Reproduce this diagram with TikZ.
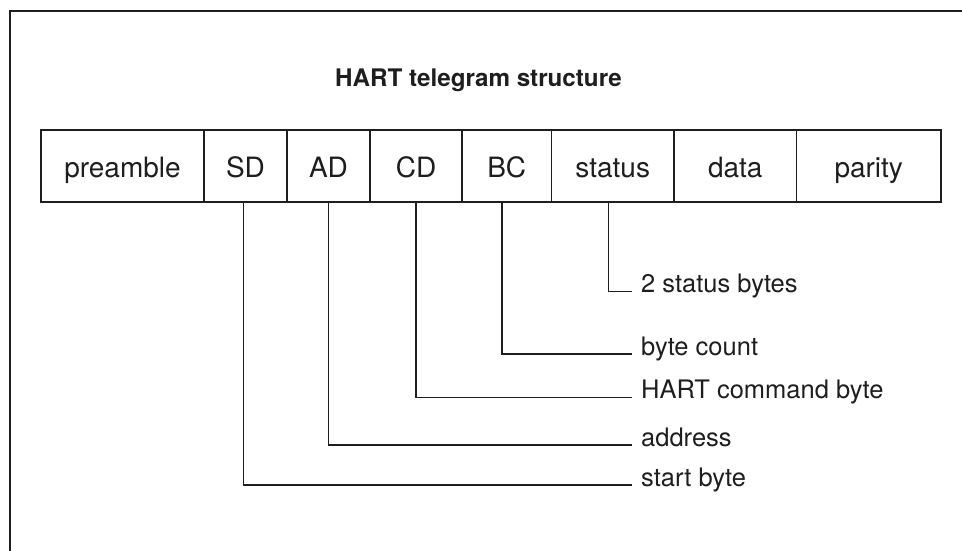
\documentclass[tikz,border=0pt]{standalone}
\usepackage{fontspec}
\setmainfont{TeX Gyre Heros}
\definecolor{ink}{HTML}{1E1E1E}
\begin{document}
\begin{tikzpicture}[x=1pt,y=-1pt,
  every node/.style={text=ink},
  cell/.style={draw=ink, line width=1.5pt, minimum height=72pt, inner sep=0pt,
    text height=22pt, text depth=0pt, font=\fontsize{28}{32}\selectfont},
  lbl/.style={anchor=mid west, inner sep=0pt, font=\fontsize{25.5}{30}\selectfont},
  conn/.style={draw=ink, line width=1.5pt},
  frame/.style={draw=ink, line width=1.5pt}]
\useasboundingbox (0,0) rectangle (962,550);
% open frame
\coordinate (fbl) at (10,560);
\coordinate (ftl) at (10,11);
\coordinate (ftr) at (970,11);
\draw[frame] (fbl) -- (ftl) -- (ftr);
% title
\node[anchor=base, font=\bfseries\fontsize{24.2}{28}\selectfont] (title) at (478.5,86.5) {HART telegram structure};
% cells
\node[cell, minimum width=163pt] (pre) at (122.5,166) {preamble};
\node[cell, minimum width=83pt]  (sd)  at (245.5,166) {SD};
\node[cell, minimum width=83pt]  (ad)  at (328.5,166) {AD};
\node[cell, minimum width=92pt]  (cd)  at (416,166) {CD};
\node[cell, minimum width=89.5pt] (bc) at (506.75,166) {BC};
\node[cell, minimum width=122.5pt] (st) at (612.75,166) {status};
\node[cell, minimum width=122.5pt] (da) at (735.25,166) {data};
\node[cell, minimum width=144.5pt] (pa) at (868.75,166) {parity};
% labels
\node[lbl] (lst) at (641,290) {2 status bytes};
\node[lbl] (lbc) at (641,352.5) {byte count};
\node[lbl] (lcd) at (641,396) {HART command byte};
\node[lbl] (lad) at (641,443.5) {address};
\node[lbl] (lsd) at (641,483.5) {start byte};
% connectors
\draw[conn] ([xshift=-4.25pt]st.south) |- ([xshift=-9pt,yshift=-1.5pt]lst.mid west);
\draw[conn] ([xshift=-5pt]bc.south) |- ([xshift=-9pt,yshift=-1.5pt]lbc.mid west);
\draw[conn] (cd.south) |- ([xshift=-9pt,yshift=-1.5pt]lcd.mid west);
\draw[conn] (ad.south) |- ([xshift=-9pt,yshift=-1.5pt]lad.mid west);
\draw[conn] ([xshift=-1.8pt]sd.south) |- ([xshift=-9pt,yshift=-1.5pt]lsd.mid west);
\end{tikzpicture}
\end{document}
